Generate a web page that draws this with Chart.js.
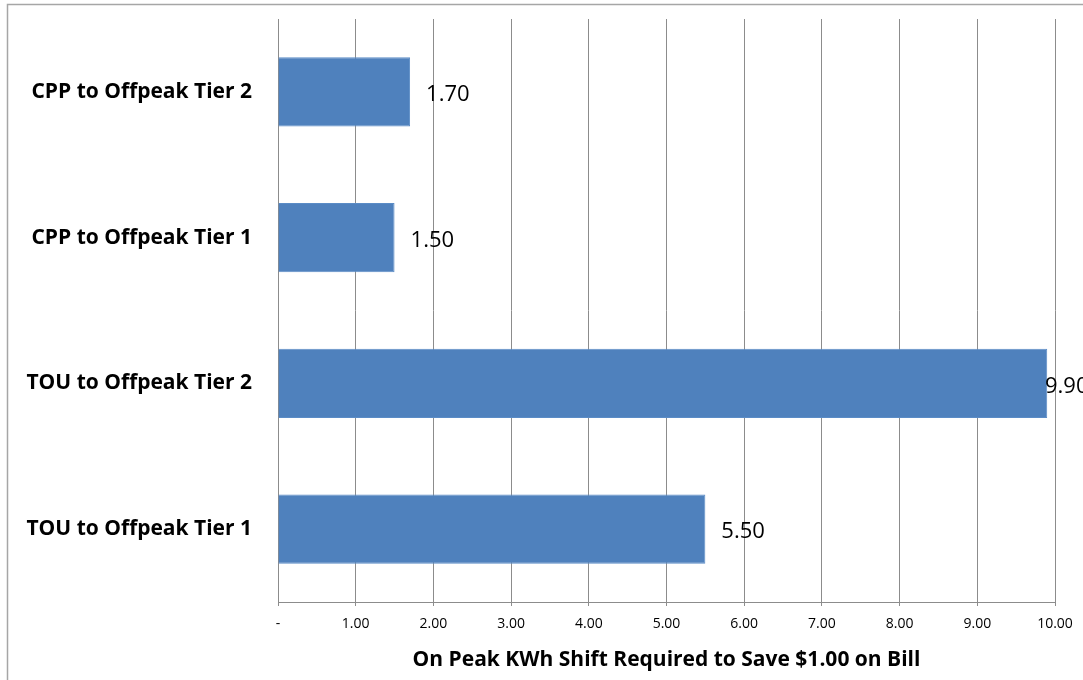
<!DOCTYPE html>
<html>
<head>
<meta charset="utf-8">
<script src="https://cdn.jsdelivr.net/npm/chart.js@4/dist/chart.umd.min.js"></script>
<style>
  html, body { margin: 0; padding: 0; background: #fff; }
  #wrap { width: 1083px; height: 680px; }
</style>
</head>
<body>
<div id="wrap"><canvas id="c" width="1083" height="680"></canvas></div>
<script>
// Rate comparisons, listed top to bottom
const categories = [
  'CPP to Offpeak Tier 2',
  'CPP to Offpeak Tier 1',
  'TOU to Offpeak Tier 2',
  'TOU to Offpeak Tier 1'
];
// kWh that must move off peak to save $1.00
const shiftValues = [1.70, 1.50, 9.90, 5.50];
const axisTitle = 'On Peak KWh Shift Required to Save $1.00 on Bill';

const FONT = "'Open Sans', 'DejaVu Sans', sans-serif";

// Outer frame of the chart object
const framePlugin = {
  id: 'frame',
  beforeDraw(chart) {
    const ctx = chart.ctx;
    ctx.save();
    ctx.fillStyle = '#ffffff';
    ctx.fillRect(0, 0, chart.width, chart.height);
    ctx.strokeStyle = '#a6a6a6';
    ctx.lineWidth = 1.5;
    ctx.strokeRect(7.5, 4.5, chart.width + 20, chart.height + 20);
    ctx.restore();
  }
};

// Numbers printed beside each bar
const valueLabelPlugin = {
  id: 'valueLabels',
  afterDatasetsDraw(chart) {
    const ctx = chart.ctx;
    const meta = chart.getDatasetMeta(0);
    const area = chart.chartArea;
    ctx.save();
    ctx.font = "22px " + FONT;
    ctx.fillStyle = '#000';
    ctx.textAlign = 'left';
    ctx.textBaseline = 'middle';
    meta.data.forEach((bar, i) => {
      const v = chart.data.datasets[0].data[i];
      let x = bar.x + 16;
      x = Math.min(x, area.right - 10);
      ctx.fillText(v.toFixed(2), x, bar.y + 3);
    });
    ctx.restore();
  }
};

new Chart(document.getElementById('c'), {
  type: 'bar',
  data: {
    labels: categories,
    datasets: [{
      data: shiftValues,
      backgroundColor: '#4f81bd',
      borderColor: '#5b8cc6',
      borderWidth: 1,
      categoryPercentage: 1,
      barPercentage: 0.474
    }]
  },
  options: {
    indexAxis: 'y',
    responsive: false,
    animation: false,
    layout: { padding: { top: 19, right: 28, left: 0, bottom: 0 } },
    plugins: {
      legend: { display: false },
      tooltip: { enabled: false }
    },
    scales: {
      x: {
        min: 0,
        max: 10,
        afterFit(scale) { scale.height = 78; },
        ticks: {
          stepSize: 1,
          autoSkip: false,
          maxRotation: 0,
          padding: 10,
          color: '#000',
          font: { family: FONT, size: 14 },
          callback: v => v === 0 ? '-' : Number(v).toFixed(2)
        },
        grid: {
          color: '#8c8c8c',
          lineWidth: 1,
          tickLength: 4,
          drawTicks: true
        },
        border: { color: '#8c8c8c', width: 1 },
        title: {
          display: true,
          text: axisTitle,
          color: '#000',
          font: { family: FONT, size: 21, weight: 'bold' },
          padding: { top: 4, bottom: 7 }
        }
      },
      y: {
        afterFit(scale) {
          scale.width = 278;
          scale.paddingTop = 0;
          scale.paddingBottom = 0;
        },
        ticks: {
          padding: 26,
          color: '#000',
          font: { family: FONT, size: 21, weight: 'bold' }
        },
        grid: { display: false, drawTicks: false },
        border: { color: '#8c8c8c', width: 1 }
      }
    }
  },
  plugins: [framePlugin, valueLabelPlugin]
});
</script>
</body>
</html>
